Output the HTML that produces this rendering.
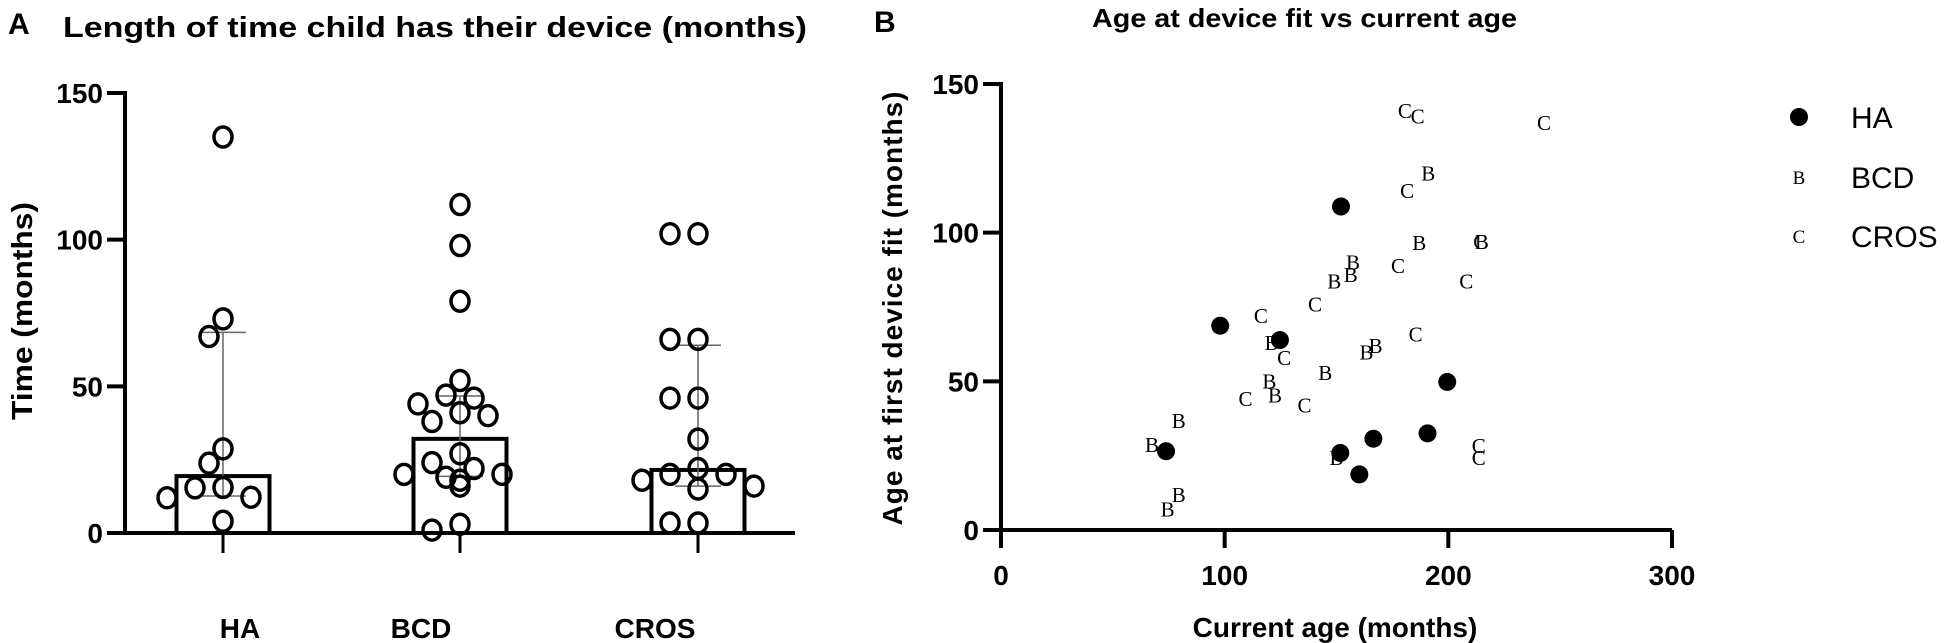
<!DOCTYPE html>
<html><head><meta charset="utf-8"><style>
html,body{margin:0;padding:0;background:#fff;}
svg{display:block;font-family:"Liberation Sans",Arial,sans-serif;}
</style></head><body>
<svg id="fig" width="1950" height="643" viewBox="0 0 1950 643">
<text x="8" y="34" font-size="30" font-weight="bold">A</text>
<text x="63" y="37" font-size="29" font-weight="bold" textLength="744" lengthAdjust="spacingAndGlyphs">Length of time child has their device (months)</text>
<text transform="translate(32,311) rotate(-90)" font-size="29" font-weight="bold" text-anchor="middle" textLength="218" lengthAdjust="spacingAndGlyphs">Time (months)</text>
<text x="874" y="32" font-size="30" font-weight="bold">B</text>
<text x="1092" y="27" font-size="26" font-weight="bold" textLength="425" lengthAdjust="spacingAndGlyphs">Age at device fit vs current age</text>
<text transform="translate(902,308) rotate(-90)" font-size="28" font-weight="bold" text-anchor="middle" letter-spacing="1">Age at first device fit (months)</text>
<text x="1335" y="637" font-size="28" font-weight="bold" text-anchor="middle">Current age (months)</text>
<g id="gA"></g>
<g id="gB"></g>
</svg>
<script>
// ---------- Panel A data ----------
const catsA = ["HA", "BCD", "CROS"];
const medianA = [19.4, 32.1, 21.5];
const upperA = [68.4, 46.7, 64];
const lowerA = [12.6, 19.3, 16];
const pointsHA = [135, 73, 67, 28.7, 23.8, 15.4, 15.5, 12.2, 12.0, 4];
const pointsBCD = [112, 98, 79, 52, 47, 46, 44, 41, 40, 38, 27, 24, 22, 20, 20, 19, 18, 16, 3, 1];
const pointsCROS = [102, 102, 66, 66, 46, 46, 32, 22, 20, 20, 18, 16, 15, 3.4, 3.4];
const ticksA = [0, 50, 100, 150];

// ---------- Panel B data ----------
const haX = [152, 98, 124.7, 199.5, 190.7, 166.5, 151.7, 73.8, 160.2];
const haY = [108.8, 68.7, 63.9, 49.8, 32.5, 30.7, 25.9, 26.5, 18.7];
const bcdX = [191, 187, 215, 157.4, 156.4, 149, 121, 167.5, 163.4, 145, 120, 122.5, 79.5, 67.5, 150, 79.5, 74.5];
const bcdY = [119.9, 96.5, 96.8, 89.9, 85.7, 83.6, 62.9, 61.8, 59.7, 52.8, 50, 45.3, 36.6, 28.6, 24.2, 11.8, 6.9];
const crosX = [180.6, 186.3, 242.8, 181.6, 214.3, 177.5, 208, 140.4, 116.2, 185.4, 126.6, 109.3, 135.7, 213.6, 213.6];
const crosY = [141, 139, 136.9, 114, 96.8, 88.8, 83.6, 75.8, 71.9, 65.7, 57.8, 44, 41.9, 28.3, 24.2];
const ticksBX = [0, 100, 200, 300];
const ticksBY = [0, 50, 100, 150];
const legendLabels = ["HA", "BCD", "CROS"];

const NS = "http://www.w3.org/2000/svg";
function mk(parent, tag, attrs, text) {
  const e = document.createElementNS(NS, tag);
  for (const k in attrs) e.setAttribute(k, attrs[k]);
  if (text !== undefined) e.textContent = text;
  parent.appendChild(e);
  return e;
}

// ---- Panel A axes ----
const gA = document.getElementById("gA");
const aX0 = 125, aX1 = 795, aY0 = 533, aYtop = 93;
const yA = v => aY0 - v * (aY0 - aYtop) / 150;
const catX = [223, 460, 698];
const catLabelX = [240, 421, 655];
const xA = i => catX[i];

let el;
el = mk(gA, "line", {x1: aX0, y1: yA(150) - 2, x2: aX0, y2: aY0 + 2, stroke: "#000", "stroke-width": 4});


ticksA.forEach(t => {
  const tk = mk(gA, "line", {x1: aX0 - 18, y1: yA(t), x2: aX0, y2: yA(t), stroke: "#000", "stroke-width": 4});
  
  
  const tl = mk(gA, "text", {x: aX0 - 22, y: yA(t) + 10, "font-size": 28, "font-weight": "bold", "text-anchor": "end"}, String(t));
  
  
});

const ptsA = [pointsHA, pointsBCD, pointsCROS];
catsA.forEach((c, i) => {
  const cx = xA(i), bw = 93;
  const bar = mk(gA, "rect", {x: cx - bw / 2, y: yA(medianA[i]), width: bw, height: aY0 - yA(medianA[i]), fill: "#fff", stroke: "#000", "stroke-width": 4});
  
  
  const ev = mk(gA, "line", {x1: cx, y1: yA(upperA[i]), x2: cx, y2: yA(lowerA[i]), stroke: "#666", "stroke-width": 1.5});
  
  
  [upperA[i], lowerA[i]].forEach(v => {
    const cap = mk(gA, "line", {x1: cx - 23, y1: yA(v), x2: cx + 23, y2: yA(v), stroke: "#666", "stroke-width": 1.5});
    
    
  });
  const placed = [];
  const sorted = ptsA[i].slice().sort((a, b) => b - a);
  const order = [0, -1, 1, -2, 2, -3, 3, -4, 4];
  sorted.forEach(v => {
    const py = yA(v);
    let px = cx;
    for (const o of order) {
      const tx = cx + o * 14;
      if (placed.every(p => Math.hypot(p[0] - tx, p[1] - py) >= 19)) { px = tx; break; }
    }
    placed.push([px, py]);
    const pt = mk(gA, "ellipse", {cx: px, cy: py, rx: 9, ry: 10, fill: "none", stroke: "#000", "stroke-width": 3.5});
    
    
  });
  const tk = mk(gA, "line", {x1: cx, y1: aY0, x2: cx, y2: aY0 + 20, stroke: "#000", "stroke-width": 3});
  
  
  const lb = mk(gA, "text", {x: catLabelX[i], y: 638, "font-size": 28, "font-weight": "bold", "text-anchor": "middle"}, c);
  
  
});
el = mk(gA, "line", {x1: aX0 - 18, y1: aY0, x2: aX1, y2: aY0, stroke: "#000", "stroke-width": 4});



// ---- Panel B ----
const gB = document.getElementById("gB");
const bX0 = 1001, bX1 = 1672, bY0 = 530, bYtop = 84;
const xB = v => bX0 + v * (bX1 - bX0) / 300;
const yB = v => bY0 - v * (bY0 - bYtop) / 150;

el = mk(gB, "line", {x1: bX0, y1: yB(150) - 2, x2: bX0, y2: bY0, stroke: "#000", "stroke-width": 4});


el = mk(gB, "line", {x1: bX0 - 18, y1: bY0, x2: bX1, y2: bY0, stroke: "#000", "stroke-width": 4});


ticksBY.forEach(t => {
  const tk = mk(gB, "line", {x1: bX0 - 18, y1: yB(t), x2: bX0, y2: yB(t), stroke: "#000", "stroke-width": 4});
  
  
  const tl = mk(gB, "text", {x: bX0 - 22, y: yB(t) + 10, "font-size": 28, "font-weight": "bold", "text-anchor": "end"}, String(t));
  
  
});
ticksBX.forEach(t => {
  const tk = mk(gB, "line", {x1: xB(t), y1: bY0, x2: xB(t), y2: bY0 + 18, stroke: "#000", "stroke-width": 4});
  
  
  const tl = mk(gB, "text", {x: xB(t), y: 585, "font-size": 28, "font-weight": "bold", "text-anchor": "middle"}, String(t));
  
  
});
haX.forEach((v, i) => {
  const d = mk(gB, "circle", {cx: xB(v), cy: yB(haY[i]), r: 9, fill: "#000"});
  
  
});
function letter(xs, ys, ch, name) {
  xs.forEach((v, i) => {
    const t = mk(gB, "text", {x: xB(v), y: yB(ys[i]) + 7, "font-size": 21, "font-family": "Liberation Serif, serif", "text-anchor": "middle"}, ch);
    
    
  });
}
letter(bcdX, bcdY, "B", "point-bcd");
letter(crosX, crosY, "C", "point-cros");

const legY = [117, 177, 236];
legendLabels.forEach((lab, i) => {
  let s;
  if (i === 0) s = mk(gB, "circle", {cx: 1799, cy: legY[i], r: 9, fill: "#000"});
  else s = mk(gB, "text", {x: 1799, y: legY[i] + 7, "font-size": 19, "font-family": "Liberation Serif, serif", "text-anchor": "middle"}, i === 1 ? "B" : "C");
  
  
  const t = mk(gB, "text", {x: 1851, y: legY[i] + 11, "font-size": 30}, lab);
  
  
});
</script>
</body></html>
